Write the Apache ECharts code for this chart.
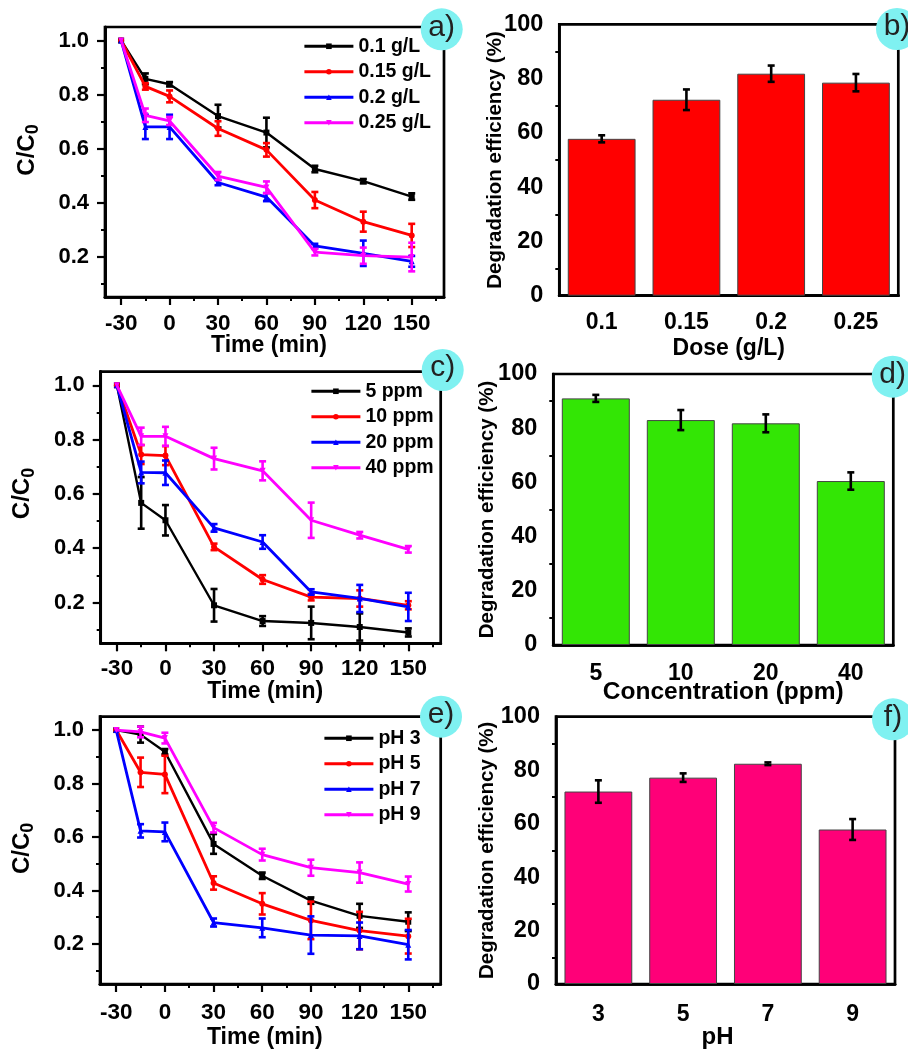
<!DOCTYPE html>
<html>
<head>
<meta charset="utf-8">
<title>Degradation charts</title>
<script src="https://cdn.jsdelivr.net/npm/echarts@6/dist/echarts.min.js"></script>
<style>
html, body { margin: 0; padding: 0; background: #fff; }
#chart { width: 908px; height: 1050px; }
</style>
</head>
<body>
<div id="chart"></div>
<script>
var timeMin = [-30, -15, 0, 30, 60, 90, 120, 150]
var timeTicks = [-30, 0, 30, 60, 90, 120, 150]
var timeMinorTicks = [-15, 15, 45, 75, 105, 135, 165]
var ratioTicks = [0.2, 0.4, 0.6, 0.8, 1.0]
var ratioMinorTicks = [0.1, 0.3, 0.5, 0.7, 0.9]

// panel a: catalyst dose
var doseNames = ['0.1 g/L', '0.15 g/L', '0.2 g/L', '0.25 g/L']
var dose01 = [1, 0.858, 0.838, 0.72, 0.659, 0.524, 0.479, 0.422]
var dose015 = [1, 0.83, 0.793, 0.674, 0.595, 0.409, 0.329, 0.278]
var dose02 = [1, 0.68, 0.68, 0.474, 0.42, 0.239, 0.212, 0.182]
var dose025 = [1, 0.723, 0.702, 0.498, 0.456, 0.216, 0.203, 0.198]
var dose01Err = [0, 0.02, 0.008, 0.042, 0.055, 0.012, 0.008, 0.012]
var dose015Err = [0, 0.012, 0.022, 0.027, 0.025, 0.03, 0.037, 0.043]
var dose02Err = [0, 0.045, 0.045, 0.01, 0.015, 0.008, 0.047, 0.02]
var dose025Err = [0, 0.025, 0.015, 0.015, 0.022, 0.012, 0.03, 0.053]

// panel c: concentration
var concNames = ['5 ppm', '10 ppm', '20 ppm', '40 ppm']
var conc5 = [1, 0.567, 0.503, 0.19, 0.132, 0.125, 0.11, 0.09]
var conc10 = [1, 0.745, 0.741, 0.405, 0.285, 0.22, 0.215, 0.19]
var conc20 = [1, 0.679, 0.678, 0.475, 0.423, 0.239, 0.215, 0.184]
var conc40 = [1, 0.812, 0.812, 0.73, 0.685, 0.503, 0.448, 0.396]
var conc5Err = [0, 0.095, 0.056, 0.06, 0.018, 0.06, 0.05, 0.015]
var conc10Err = [0, 0.035, 0.035, 0.012, 0.016, 0.012, 0.03, 0.015]
var conc20Err = [0, 0.04, 0.045, 0.014, 0.025, 0.01, 0.05, 0.052]
var conc40Err = [0, 0.032, 0.035, 0.04, 0.035, 0.065, 0.012, 0.012]

// panel e: pH
var phNames = ['pH 3', 'pH 5', 'pH 7', 'pH 9']
var ph3 = [1, 0.983, 0.919, 0.574, 0.455, 0.362, 0.305, 0.283]
var ph5 = [1, 0.842, 0.834, 0.428, 0.35, 0.288, 0.25, 0.229]
var ph7 = [1, 0.623, 0.619, 0.28, 0.26, 0.233, 0.23, 0.197]
var ph9 = [1, 0.993, 0.97, 0.635, 0.534, 0.485, 0.467, 0.424]
var ph3Err = [0, 0.03, 0.01, 0.037, 0.012, 0.012, 0.045, 0.035]
var ph5Err = [0, 0.055, 0.07, 0.025, 0.04, 0.07, 0.07, 0.065]
var ph7Err = [0, 0.025, 0.035, 0.015, 0.035, 0.07, 0.05, 0.055]
var ph9Err = [0, 0.02, 0.02, 0.018, 0.022, 0.03, 0.038, 0.028]

// bar panels b, d, f
var doseLabels = ['0.1', '0.15', '0.2', '0.25']
var doseEff = [57.8, 72.2, 81.8, 78.5]
var doseEffErr = [1.3, 3.8, 3.0, 3.2]
var concLabels = ['5', '10', '20', '40']
var concEff = [91, 83, 81.8, 60.5]
var concEffErr = [1.3, 3.7, 3.3, 3.2]
var phLabels = ['3', '5', '7', '9']
var phEff = [72, 77.2, 82.4, 57.8]
var phEffErr = [4.2, 1.6, 0.5, 3.9]

var FONT = 'Liberation Sans'
var TEXT = '#000'
var lineColors = ['#000000', '#ff0000', '#0000ff', '#ff00ff']
var lineSymbols = ['rect', 'circle', 'triangle', 'path://M0,0 L10,0 L5,10 Z']

var option = {
  animation: false,
  backgroundColor: '#fff',
  grid: [],
  xAxis: [],
  yAxis: [],
  legend: [],
  series: [],
  graphic: []
}

function errorSeries (name, xi, yi, rows, color) {
  return {
    name: name,
    type: 'custom',
    xAxisIndex: xi,
    yAxisIndex: yi,
    data: rows,
    encode: { x: 0, y: 1 },
    silent: true,
    clip: false,
    renderItem: function (params, api) {
      var x = api.value(0)
      var y = api.value(1)
      var e = api.value(2)
      if (!e) return null
      var hi = api.coord([x, y + e])
      var lo = api.coord([x, y - e])
      var style = { stroke: color, lineWidth: 2.6, fill: null }
      return {
        type: 'group',
        children: [
          { type: 'line', shape: { x1: hi[0], y1: hi[1], x2: lo[0], y2: lo[1] }, style: style },
          { type: 'line', shape: { x1: hi[0] - 3.5, y1: hi[1], x2: hi[0] + 3.5, y2: hi[1] }, style: style },
          { type: 'line', shape: { x1: lo[0] - 3.5, y1: lo[1], x2: lo[0] + 3.5, y2: lo[1] }, style: style }
        ]
      }
    }
  }
}

function tickAxis (base, extra) {
  return Object.assign({}, base, extra)
}

function addLinePanel (box, names, values, errs, legendPos) {
  var g = option.grid.length
  var xi = option.xAxis.length
  var yi = option.yAxis.length
  option.grid.push({
    left: box.left, top: box.top, width: box.width, height: box.height,
    show: true, borderColor: '#000', borderWidth: 2.7, backgroundColor: 'transparent'
  })
  var xBase = {
    type: 'value', gridIndex: g, min: -40, max: 170, position: 'bottom', splitLine: { show: false },
    axisLine: { show: true, onZero: false, lineStyle: { color: '#000', width: 2.7 } }
  }
  option.xAxis.push(tickAxis(xBase, {
    name: 'Time (min)',
    nameLocation: 'middle',
    nameGap: box.nameGap,
    nameMoveOverlap: false,
    nameTextStyle: { fontFamily: FONT, fontWeight: 'bold', fontSize: 23, color: TEXT, padding: [0, 11, 0, 0] },
    axisTick: { length: 8, lineStyle: { color: '#000', width: 2.2 }, customValues: timeTicks },
    axisLabel: {
      customValues: timeTicks, margin: box.labelMargin, color: TEXT,
      fontFamily: FONT, fontWeight: 'bold', fontSize: 22.5, hideOverlap: false,
      showMinLabel: true, showMaxLabel: true
    }
  }))
  option.xAxis.push(tickAxis(xBase, {
    axisTick: { length: 4, lineStyle: { color: '#000', width: 2 }, customValues: timeMinorTicks },
    axisLabel: { show: false }
  }))
  var yBase = {
    type: 'value', gridIndex: g, min: 0.05, max: 1.05, position: 'left', splitLine: { show: false },
    axisLine: { show: true, onZero: false, lineStyle: { color: '#000', width: 2.7 } }
  }
  option.yAxis.push(tickAxis(yBase, {
    name: '{a|C/C}{b|0}',
    nameLocation: 'middle',
    nameGap: box.yNameGap,
    nameMoveOverlap: false,
    nameTextStyle: {
      padding: [0, 0, 0, box.yNamePad],
      rich: {
        a: { fontFamily: FONT, fontWeight: 'bold', fontSize: 24, color: TEXT, lineHeight: 30 },
        b: { fontFamily: FONT, fontWeight: 'bold', fontSize: 18, color: TEXT, lineHeight: 30, verticalAlign: 'bottom', padding: [8, 0, 0, 0] }
      }
    },
    axisTick: { length: 8, lineStyle: { color: '#000', width: 2.2 }, customValues: ratioTicks },
    axisLabel: {
      customValues: ratioTicks, margin: 16, color: TEXT,
      fontFamily: FONT, fontWeight: 'bold', fontSize: 22,
      formatter: function (v) { return v.toFixed(1) }
    }
  }))
  option.yAxis.push(tickAxis(yBase, {
    axisTick: { length: 4, lineStyle: { color: '#000', width: 2 }, customValues: ratioMinorTicks },
    axisLabel: { show: false }
  }))
  names.forEach(function (name, i) {
    option.series.push({
      name: name,
      type: 'line',
      xAxisIndex: xi,
      yAxisIndex: yi,
      z: 3 + i,
      data: timeMin.map(function (t, k) { return [t, values[i][k]] }),
      symbol: lineSymbols[i],
      symbolSize: 6,
      itemStyle: { color: lineColors[i] },
      lineStyle: { color: lineColors[i], width: i === 0 ? 2.4 : 2.8 }
    })
    var s = errorSeries(name + ' err', xi, yi, timeMin.map(function (t, k) {
      return [t, values[i][k], errs[i][k]]
    }), lineColors[i])
    s.z = 3 + i
    option.series.push(s)
  })
  option.legend.push({
    left: legendPos.left, top: legendPos.top, orient: 'vertical',
    data: names, itemWidth: 49, itemHeight: 7, itemGap: 5, padding: 0,
    selectedMode: false,
    lineStyle: { width: 2.8 },
    textStyle: { fontFamily: FONT, fontWeight: 'bold', fontSize: 19.5, color: TEXT, lineHeight: 20.5 }
  })
}

function addBarPanel (box, labels, values, errs, color, xName, xFontSize) {
  var g = option.grid.length
  var xi = option.xAxis.length
  var yi = option.yAxis.length
  option.grid.push({
    left: box.left, top: box.top, width: box.width, height: box.height,
    show: true, borderColor: '#000', borderWidth: 2.7, backgroundColor: 'transparent'
  })
  var xBase = {
    type: 'category', gridIndex: g, data: labels, position: 'bottom', splitLine: { show: false },
    axisLine: { show: true, lineStyle: { color: '#000', width: 2.7 } }
  }
  option.xAxis.push(tickAxis(xBase, {
    name: xName,
    nameLocation: 'middle',
    nameGap: box.nameGap,
    nameMoveOverlap: false,
    nameTextStyle: { fontFamily: FONT, fontWeight: 'bold', fontSize: xFontSize, color: TEXT, padding: box.namePad },
    axisTick: { alignWithLabel: true, length: 8, lineStyle: { color: '#000', width: 2.2 } },
    axisLabel: { margin: box.labelMargin, color: TEXT, fontFamily: FONT, fontWeight: 'bold', fontSize: 23, interval: 0 }
  }))
  option.xAxis.push(tickAxis(xBase, {
    axisTick: { alignWithLabel: false, length: 4, lineStyle: { color: '#000', width: 2 } },
    axisLabel: { show: false }
  }))
  option.yAxis.push({
    type: 'value', gridIndex: g, min: 0, max: 100, interval: 20,
    splitLine: { show: false },
    axisLine: { show: true, lineStyle: { color: '#000', width: 2.7 } },
    axisTick: { length: 9, lineStyle: { color: '#000', width: 2.2 } },
    minorTick: { show: true, splitNumber: 2, length: 4, lineStyle: { color: '#000', width: 2 } },
    axisLabel: { margin: 16, color: TEXT, fontFamily: FONT, fontWeight: 'bold', fontSize: 23.5 },
    name: 'Degradation efficiency (%)',
    nameLocation: 'middle',
    nameGap: box.yNameGap,
    nameMoveOverlap: false,
    nameTextStyle: { fontFamily: FONT, fontWeight: 'bold', fontSize: 20.5, color: TEXT }
  })
  option.series.push({
    name: xName + ' bars',
    type: 'bar',
    xAxisIndex: xi,
    yAxisIndex: yi,
    barWidth: '80%',
    z: 2,
    data: values,
    itemStyle: { color: color, borderColor: '#444', borderWidth: 1 }
  })
  var s = errorSeries(xName + ' err', xi, yi, values.map(function (v, k) {
    return [k, v, errs[k]]
  }), '#000')
  s.z = 5
  option.series.push(s)
}

function addBadge (text, cx, cy) {
  option.graphic.push({
    type: 'circle', z: 50, shape: { cx: cx, cy: cy, r: 21 },
    style: { fill: '#7ff1f1' }, silent: true
  })
  option.graphic.push({
    type: 'text', z: 51, x: cx, y: cy - 2, silent: true,
    style: { text: text, font: '30px "Liberation Sans"', fill: '#222', textAlign: 'center', textVerticalAlign: 'middle' }
  })
}

addLinePanel({ left: 105, top: 27, width: 339, height: 270, labelMargin: 15, nameGap: 37, yNameGap: 63, yNamePad: 24 },
  doseNames, [dose01, dose015, dose02, dose025], [dose01Err, dose015Err, dose02Err, dose025Err],
  { left: 303, top: 36 })
addLinePanel({ left: 100.7, top: 371.7, width: 340, height: 271.6, labelMargin: 14, nameGap: 37, yNameGap: 63, yNamePad: 28 },
  concNames, [conc5, conc10, conc20, conc40], [conc5Err, conc10Err, conc20Err, conc40Err],
  { left: 310, top: 381 })
addLinePanel({ left: 100, top: 716.7, width: 340.7, height: 271.6, labelMargin: 17, nameGap: 42, yNameGap: 63, yNamePad: 4 },
  phNames, [ph3, ph5, ph7, ph9], [ph3Err, ph5Err, ph7Err, ph9Err],
  { left: 323, top: 728 })

addBarPanel({ left: 559.3, top: 24.3, width: 339, height: 271.4, labelMargin: 15, nameGap: 41, yNameGap: 53, namePad: [0, 0, 0, 0] },
  doseLabels, doseEff, doseEffErr, '#ff0000', 'Dose (g/L)', 23)
addBarPanel({ left: 553.3, top: 374, width: 340, height: 271, labelMargin: 17, nameGap: 35, yNameGap: 55, namePad: [0, 0, 0, 0] },
  concLabels, concEff, concEffErr, '#33e605', 'Concentration (ppm)', 24.5)
addBarPanel({ left: 556, top: 716.7, width: 339, height: 271, labelMargin: 19, nameGap: 41, yNameGap: 58, namePad: [0, 16, 0, 0] },
  phLabels, phEff, phEffErr, '#ff0078', 'pH', 24)

addBadge('a)', 441.7, 29.3)
addBadge('b)', 897, 29)
addBadge('c)', 442.7, 370)
addBadge('d)', 892.7, 376.7)
addBadge('e)', 441, 716.7)
addBadge('f)', 893, 719.3)

var chart = echarts.init(document.getElementById('chart'), null, { renderer: 'canvas' })
chart.setOption(option)
</script>
</body>
</html>
